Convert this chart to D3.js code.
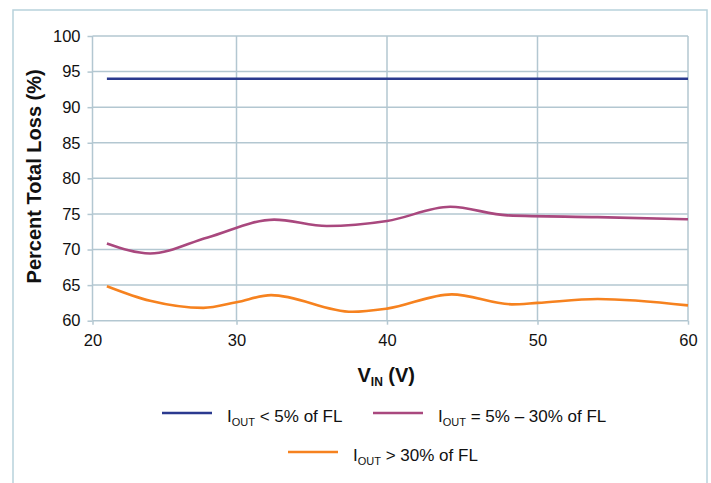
<!DOCTYPE html>
<html lang="en">
<head>
    <meta charset="UTF-8">
    <title>Percent Total Loss vs VIN</title>
    <script src="https://d3js.org/d3.v7.min.js"></script>
    <style>
        body { margin: 0; background: #fff; }
        text { font-family: "Liberation Sans", Arial, sans-serif; fill: #111; }
        .axis path { display: none; }
        .axis line { stroke: #b3c7d1; stroke-width: 1.5px; }
        .axis text { font-size: 16.5px; }
        .grid line { stroke: #b3c7d1; stroke-width: 1.5px; }
        .title { font-size: 20px; font-weight: bold; }
        .legend text { font-size: 17px; }
    </style>
</head>
<body>
    <svg width="711" height="483"></svg>

    <script>
        // tick labels
        const xTicks = [20, 30, 40, 50, 60];
        const yTicks = [60, 65, 70, 75, 80, 85, 90, 95, 100];

        // series: VIN (V) and percent total loss (%)
        const vinLow = [21, 60];
        const lossLow = [94, 94];

        const vinMid = [21, 24, 28, 32.5, 36, 40, 44.2, 48, 54, 60];
        const lossMid = [70.85, 69.45, 71.7, 74.2, 73.3, 74.0, 76.0, 74.8, 74.55, 74.25];

        const vinHigh = [21, 24, 27.7, 30, 32.3, 37.7, 40, 44.3, 48.3, 50, 54, 60];
        const lossHigh = [64.85, 62.8, 61.8, 62.6, 63.6, 61.25, 61.7, 63.7, 62.3, 62.5, 63.05, 62.15];

        const seriesNames = ["< 5% of FL", "= 5% \u2013 30% of FL", "> 30% of FL"];
        const colors = ["#2b3a8f", "#a9487e", "#f6821f"];

        const series = [
            { name: seriesNames[0], color: colors[0], pts: vinLow.map((v, i) => [v, lossLow[i]]) },
            { name: seriesNames[1], color: colors[1], pts: vinMid.map((v, i) => [v, lossMid[i]]) },
            { name: seriesNames[2], color: colors[2], pts: vinHigh.map((v, i) => [v, lossHigh[i]]) }
        ];

        const svg = d3.select("svg");

        // outer frame
        svg.append("rect")
            .attr("x", 13).attr("y", 10)
            .attr("width", 694).attr("height", 490)
            .attr("fill", "none")
            .attr("stroke", "#b8d2dc")
            .attr("stroke-width", 1.5);

        const plotL = 92.5, plotR = 688, plotT = 36, plotB = 320.7;

        const x = d3.scaleLinear()
            .domain([20, 30, 60])
            .range([plotL, 236.5, plotR]);

        const y = d3.scaleLinear()
            .domain([60, 100])
            .range([plotB, plotT]);

        // gridlines
        svg.append("g").attr("class", "grid")
            .selectAll("line")
            .data(yTicks)
            .enter().append("line")
            .attr("x1", plotL).attr("x2", plotR)
            .attr("y1", d => y(d)).attr("y2", d => y(d));

        svg.append("g").attr("class", "grid")
            .selectAll("line")
            .data(xTicks)
            .enter().append("line")
            .attr("x1", d => x(d)).attr("x2", d => x(d))
            .attr("y1", plotT).attr("y2", plotB);

        // axes
        svg.append("g")
            .attr("class", "axis")
            .attr("transform", `translate(${plotL},0)`)
            .call(d3.axisLeft(y).tickValues(yTicks).tickSize(5).tickPadding(7));

        svg.append("g")
            .attr("class", "axis")
            .attr("transform", `translate(0,${plotB})`)
            .call(d3.axisBottom(x).tickValues(xTicks).tickSize(4).tickPadding(10));

        // lines
        const line = d3.line()
            .x(d => x(d[0]))
            .y(d => y(d[1]))
            .curve(d3.curveMonotoneX);

        svg.selectAll(".series")
            .data(series)
            .enter().append("path")
            .attr("class", "series")
            .attr("fill", "none")
            .attr("stroke", d => d.color)
            .attr("stroke-width", 2.6)
            .attr("d", d => line(d.pts));

        // axis titles
        svg.append("text")
            .attr("class", "title")
            .attr("transform", `translate(41,${(plotT + plotB) / 2 - 2}) rotate(-90)`)
            .attr("text-anchor", "middle")
            .text("Percent Total Loss (%)");

        const xt = svg.append("text")
            .attr("class", "title")
            .attr("x", (plotL + plotR) / 2 - 4)
            .attr("y", 382)
            .attr("text-anchor", "middle");
        xt.append("tspan").text("V");
        xt.append("tspan").attr("font-size", "12px").attr("dy", 4).text("IN");
        xt.append("tspan").attr("dy", -4).text(" (V)");

        // legend
        const legendPos = [
            { lx: 162, ty: 421.5 },
            { lx: 373, ty: 421.5 },
            { lx: 288, ty: 460.5 }
        ];

        const lg = svg.append("g").attr("class", "legend")
            .selectAll("g")
            .data(series)
            .enter().append("g")
            .attr("transform", (d, i) => `translate(${legendPos[i].lx},${legendPos[i].ty})`);

        lg.append("line")
            .attr("x1", 0).attr("x2", 50)
            .attr("y1", -8.5).attr("y2", -8.5)
            .attr("stroke", d => d.color)
            .attr("stroke-width", 2.6);

        const lt = lg.append("text").attr("x", 65);
        lt.append("tspan").text("I");
        lt.append("tspan").attr("font-size", "11px").attr("dy", 4).text("OUT");
        lt.append("tspan").attr("dy", -4).text(d => " " + d.name);
    </script>
</body>
</html>
